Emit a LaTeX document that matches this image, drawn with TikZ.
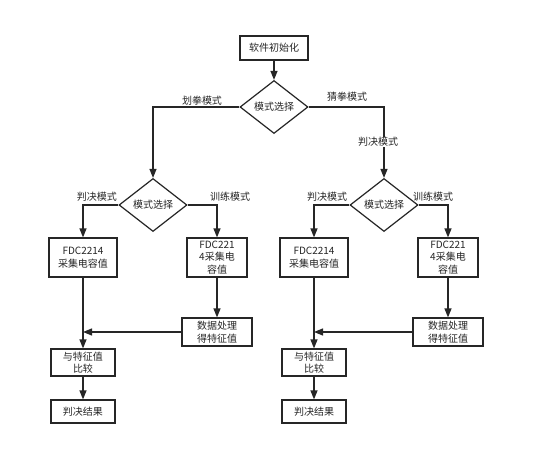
\documentclass[tikz,border=0pt]{standalone}
\usepackage{fontspec}
\setmainfont{Noto Sans CJK SC}
\usetikzlibrary{arrows.meta,shapes.geometric}
\begin{document}
\begin{tikzpicture}[x=1pt,y=-1pt,
  txt/.style={font=\fontsize{10}{12.5}\selectfont, text=black!85},
  box/.style={txt, draw=black!85, line width=1.2pt, align=center, inner sep=0pt},
  dia/.style={txt, draw=black!85, line width=1.2pt, diamond, inner sep=0pt, minimum width=68pt, minimum height=53pt},
  arr/.style={draw=black!85, line width=1.2pt, -{Triangle[length=9pt,width=7pt]}},
  lab/.style={txt, inner sep=0.5pt}
]
\useasboundingbox[fill=white] (0,0) rectangle (542,471);

\node[box, minimum width=68pt, minimum height=24pt] (init) at (274,48) {软件初始化};
\node[dia] (d1) at (274,107) {模式选择};

% left branch
\node[dia] (d2L) at (153,205) {模式选择};
\node[box, minimum width=68pt, minimum height=39pt] (fL) at (83,257.5) {FDC2214\\采集电容值};
\node[box, minimum width=60pt, minimum height=39pt] (gL) at (217,257.5) {FDC221\\4采集电\\容值};
\node[box, minimum width=70pt, minimum height=28pt] (pL) at (217,332) {数据处理\\得特征值};
\node[box, minimum width=64pt, minimum height=27pt] (cL) at (83,362.5) {与特征值\\比较};
\node[box, minimum width=64pt, minimum height=23pt] (rL) at (83,411.5) {判决结果};

% right branch
\node[dia] (d2R) at (384,205) {模式选择};
\node[box, minimum width=68pt, minimum height=39pt] (fR) at (314,257.5) {FDC2214\\采集电容值};
\node[box, minimum width=60pt, minimum height=39pt] (gR) at (448,257.5) {FDC221\\4采集电\\容值};
\node[box, minimum width=70pt, minimum height=28pt] (pR) at (448,332) {数据处理\\得特征值};
\node[box, minimum width=64pt, minimum height=27pt] (cR) at (314,362.5) {与特征值\\比较};
\node[box, minimum width=64pt, minimum height=23pt] (rR) at (314,411.5) {判决结果};

\draw[arr] (init) -- (d1);
\draw[arr] (d1.west) -| (d2L.north);
\draw[arr] (d1.east) -| (d2R.north);

\draw[arr] (d2L.west) -| (fL.north);
\draw[arr] (d2L.east) -| (gL.north);
\draw[arr] (gL) -- (pL);
\draw[arr] (fL) -- (cL);
\coordinate (jL) at (fL.south |- pL.west);
\draw[arr] (pL.west) -- (jL);
\draw[arr] (cL) -- (rL);

\draw[arr] (d2R.west) -| (fR.north);
\draw[arr] (d2R.east) -| (gR.north);
\draw[arr] (gR) -- (pR);
\draw[arr] (fR) -- (cR);
\coordinate (jR) at (fR.south |- pR.west);
\draw[arr] (pR.west) -- (jR);
\draw[arr] (cR) -- (rR);

\node[lab] (l1) at (202,101) {划拳模式};
\node[lab] (l2) at (347,97) {猜拳模式};
\node[lab, fill=white] (l3) at (378,142) {判决模式};
\node[lab] (l4) at (97,197) {判决模式};
\node[lab] (l5) at (230,197) {训练模式};
\node[lab] (l6) at (327,197) {判决模式};
\node[lab] (l7) at (433,197) {训练模式};
\end{tikzpicture}
\end{document}
